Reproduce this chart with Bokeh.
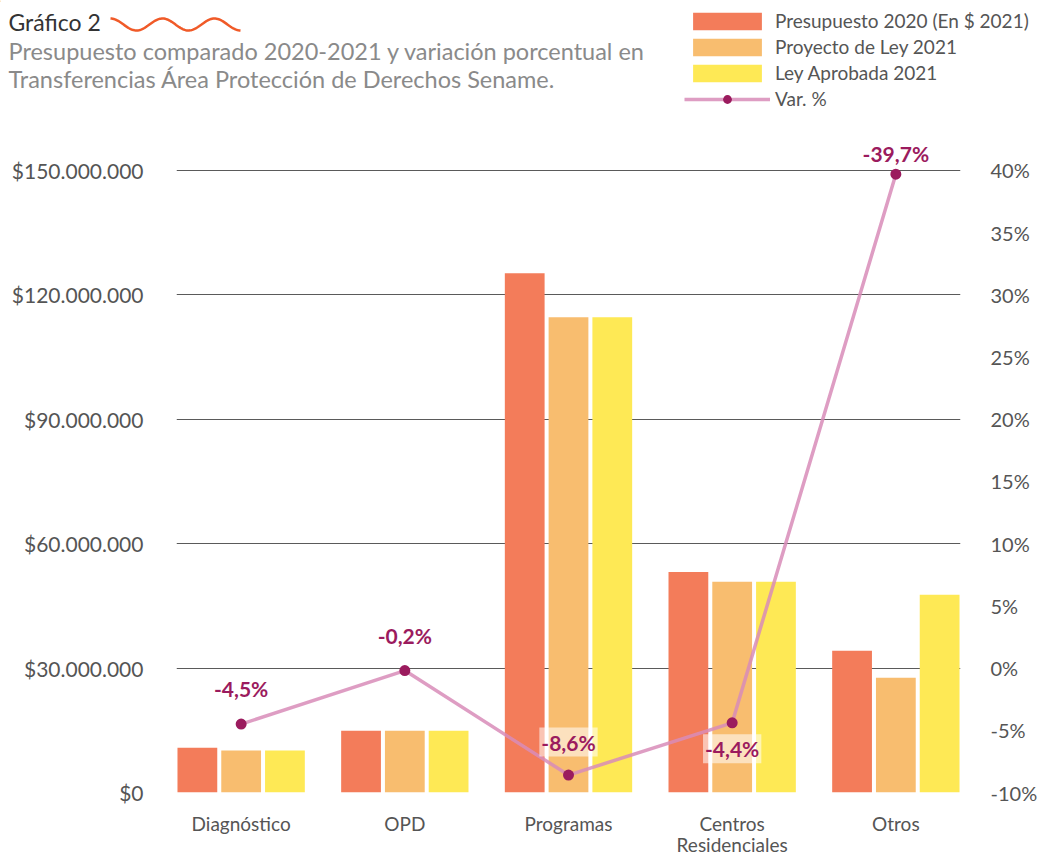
import numpy as np
from bokeh.plotting import figure
from bokeh.layouts import column, row
from bokeh.models import (Range1d, LinearAxis, FixedTicker, ColumnDataSource, Legend,
                          LegendItem)
from bokeh.core.properties import value
from bokeh.embed import file_html
from bokeh.resources import INLINE

# ---- data ----
categories = ["Diagnóstico", "OPD", "Programas", "Centros\nResidenciales", "Otros"]
presupuesto_2020 = [10.8e6, 14.9e6, 125.2e6, 53.2e6, 34.2e6]
proyecto_2021 = [10.1e6, 14.9e6, 114.6e6, 50.8e6, 27.7e6]
ley_2021 = [10.1e6, 14.9e6, 114.6e6, 50.8e6, 47.7e6]
var_pct = [-4.5, -0.2, -8.6, -4.4, 39.7]
var_labels = ["-4,5%", "-0,2%", "-8,6%", "-4,4%", "-39,7%"]
left_ticks = [0, 30e6, 60e6, 90e6, 120e6, 150e6]
left_tick_labels = ["$0", "$30.000.000", "$60.000.000", "$90.000.000", "$120.000.000", "$150.000.000"]
right_ticks = [-10, -5, 0, 5, 10, 15, 20, 25, 30, 35, 40]
right_tick_labels = ["-10%", "-5%", "0%", "5%", "10%", "15%", "20%", "25%", "30%", "35%", "40%"]
series_names = ["Presupuesto 2020 (En $ 2021)", "Proyecto de Ley 2021", "Ley Aprobada 2021"]
line_name = "Var. %"
title_text = "Gráfico 2"
subtitle_lines = ["Presupuesto comparado 2020-2021 y variación porcentual en",
                  "Transferencias Área Protección de Derechos Sename."]

# ---- style ----
FONT = "Lato"
COLORS = ["#F37C5A", "#F8BD6F", "#FEE955"]
LINE_COLOR = "#D88CB8"
MARK_COLOR = "#9B1B5E"
AXIS_TXT = "#555555"
WAVE_COLOR = "#F05A28"

W = 1040
HDR_H = 120
H = 859 - HDR_H
ML, MR, MT, MB = 176, 78, 10, 66

y0_px = 793 - HDR_H
ytop_px = 170 - HDR_H
span = y0_px - ytop_px
y_end = left_ticks[-1] * (y0_px - MT) / span
pct_end = right_ticks[0] + (right_ticks[-1] - right_ticks[0]) * (y0_px - MT) / span

# ================= header =================
hdr = figure(width=W, height=HDR_H, output_backend="svg", toolbar_location=None,
             x_range=Range1d(0, W), y_range=Range1d(HDR_H, 0),
             x_axis_location=None, y_axis_location=None,
             min_border=0, min_border_left=0, min_border_right=0,
             min_border_top=0, min_border_bottom=0)
hdr.grid.visible = False
hdr.outline_line_color = None
hdr.background_fill_color = "white"
hdr.border_fill_color = "white"

hdr.text(x=[8], y=[21], text=[title_text], text_font=value(FONT), text_font_size="23px",
         text_color="#333333", text_baseline="alphabetic")
hdr.text(x=[8, 8], y=[50, 78], text=subtitle_lines, text_font=value(FONT),
         text_font_size="23.5px", text_color="#8a8a8a", text_baseline="alphabetic")

t = np.linspace(0, 130, 120)
hdr.line(110 + t, 24 - 6 * np.cos(2 * np.pi * t / 52), line_color=WAVE_COLOR,
         line_width=2.5)

# legend swatches: renderers kept off-canvas so only their legend glyphs show
dummy_bars = [hdr.vbar(x=[-500], top=[1], bottom=[0], width=1, fill_color=c, line_color=None)
              for c in COLORS]
dummy_line = hdr.line(x=[-500, -499], y=[0, 1], line_color=LINE_COLOR, line_width=3.5,
                      line_alpha=0.85)
dummy_pt = hdr.scatter(x=[-500], y=[0], size=11, fill_color=MARK_COLOR, line_color=None)
items = [LegendItem(label=n, renderers=[r]) for n, r in zip(series_names, dummy_bars)]
items.append(LegendItem(label=line_name, renderers=[dummy_line, dummy_pt]))
legend = Legend(items=items, location=(684, HDR_H - 110), orientation="vertical",
                glyph_width=86, glyph_height=22, label_height=22, label_standoff=5,
                spacing=3, padding=0, margin=0, border_line_color=None,
                background_fill_alpha=0, label_text_font=FONT,
                label_text_font_size="19px", label_text_color=AXIS_TXT)
hdr.add_layout(legend, "center")

# ================= main chart =================
x = np.arange(len(categories))

p = figure(width=W, height=H, output_backend="svg", toolbar_location=None,
           x_range=Range1d(-0.395, 4.395), y_range=Range1d(0, y_end),
           min_border_left=ML, min_border_right=MR, min_border_top=MT, min_border_bottom=MB)
p.outline_line_color = None
p.background_fill_color = "white"
p.border_fill_color = "white"
p.extra_y_ranges = {"pct": Range1d(right_ticks[0], pct_end)}

bw = 0.243
off = 0.2675
for i, (vals, c) in enumerate(zip([presupuesto_2020, proyecto_2021, ley_2021], COLORS)):
    src = ColumnDataSource(dict(x=x + (i - 1) * off, top=vals))
    p.vbar(x="x", top="top", width=bw, bottom=0, source=src, fill_color=c, line_color=None)

p.xgrid.grid_line_color = None
p.ygrid.ticker = FixedTicker(ticks=left_ticks)
p.ygrid.grid_line_color = "#5a5a5a"
p.ygrid.grid_line_width = 1
p.ygrid.level = "underlay"

lsrc = ColumnDataSource(dict(x=x, y=var_pct, label=var_labels,
                             yoff=[-36, -35, -33, 26, -21],
                             bga=[0, 0, 0.55, 0.55, 0]))
p.line("x", "y", source=lsrc, y_range_name="pct", line_color=LINE_COLOR,
       line_width=3.5, line_alpha=0.85)
p.scatter("x", "y", source=lsrc, y_range_name="pct", size=11, fill_color=MARK_COLOR,
          line_color=None)
p.text("x", "y", text="label", source=lsrc, y_range_name="pct", y_offset="yoff",
       text_align="center", text_baseline="middle", text_font=value(FONT),
       text_font_size="21px", text_color=MARK_COLOR, text_font_style="bold",
       background_fill_color="white", background_fill_alpha="bga", padding=2)

def style_axis(ax, size):
    ax.axis_line_color = None
    ax.major_tick_line_color = None
    ax.minor_tick_line_color = None
    ax.major_tick_out = 0
    ax.minor_tick_out = 0
    ax.major_tick_in = 0
    ax.minor_tick_in = 0
    ax.major_label_text_font = FONT
    ax.major_label_text_font_size = size
    ax.major_label_text_color = AXIS_TXT

p.yaxis.ticker = FixedTicker(ticks=left_ticks)
p.yaxis.major_label_overrides = dict(zip(left_ticks, left_tick_labels))
style_axis(p.yaxis[0], "21px")
p.yaxis.major_label_standoff = 33

ax2 = LinearAxis(y_range_name="pct", ticker=FixedTicker(ticks=right_ticks))
ax2.major_label_overrides = dict(zip(right_ticks, right_tick_labels))
style_axis(ax2, "20px")
ax2.major_label_standoff = 30
p.add_layout(ax2, "right")

p.xaxis.ticker = FixedTicker(ticks=list(x))
p.xaxis.major_label_overrides = {int(i): c for i, c in zip(x, categories)}
style_axis(p.xaxis[0], "19px")
p.xaxis.major_label_standoff = 19
p.xaxis.major_label_text_line_height = 0.95

layout = column(row(hdr), row(p), spacing=0)
open("out.html", "w").write(file_html(layout, INLINE))
